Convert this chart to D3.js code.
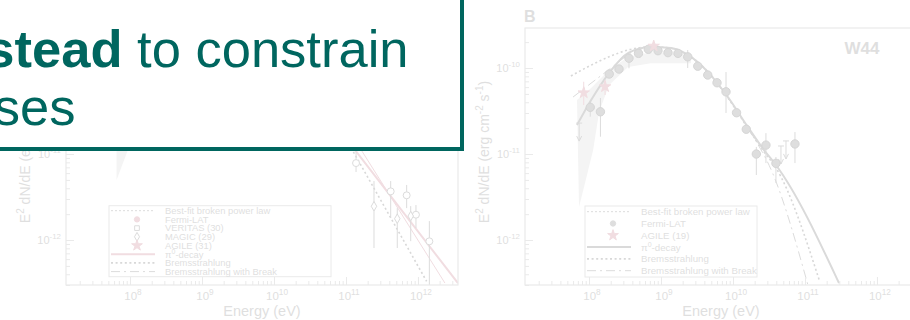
<!DOCTYPE html>
<html>
<head>
<meta charset="utf-8">
<script src="https://cdn.jsdelivr.net/npm/d3@7"></script>
<style>
  body { margin: 0; background: #fff; }
  svg { display: block; font-family: "Liberation Sans", Arial, sans-serif; }
</style>
</head>
<body>
<svg id="chart" width="910" height="320"></svg>
<script>
// axes (both panels share them)
var xDomain = [1.29e7, 3.6e12];
var yDomain = [3.0e-13, 2.92e-10];
var xMajor = [1e8, 1e9, 1e10, 1e11, 1e12];
var xMajorExp = ["8", "9", "10", "11", "12"];
var yMajor = [1e-12, 1e-11, 1e-10];
var yMajorExp = ["-12", "-11", "-10"];

// panel A (IC 443) - only the lower right part shows below the box
var icPion = [[1.04e11, 1.46e-11], [3.59e12, 3.16e-13]];
var icBroken = [[1.33e11, 1.46e-11], [2.37e12, 3.16e-13]];
var icBrems = [[1.02e11, 1.46e-11], [1.32e12, 3.31e-13]];
var icBand = [[6.5e7, 4.25e-11], [1.71e8, 4.25e-11], [6.5e7, 5.0e-12]];
var icVeritasE = [1.38e11, 4.18e11, 6.97e11, 9.38e11, 1.44e12];
var icVeritasF = [7.85e-12, 3.68e-12, 3.31e-12, 1.97e-12, 9.66e-13];
var icVeritasHi = [1.05e-11, 4.85e-12, 4.37e-12, 2.55e-12, 1.66e-12];
var icVeritasLo = [6.18e-12, 1.80e-12, 2.35e-12, 1.38e-12, 3.0e-13];
var icMagicE = [2.45e11, 5.16e11, 7.93e11];
var icMagicF = [2.47e-12, 1.77e-12, 1.90e-12];
var icMagicHi = [4.85e-12, 2.35e-12, 2.48e-12];
var icMagicLo = [8.07e-13, 8.07e-13, 9.7e-13];
var icLegend = ["Best-fit broken power law", "Fermi-LAT", "VERITAS (30)", "MAGIC (29)",
                "AGILE (31)", "π^0-decay", "Bremsstrahlung", "Bremsstrahlung with Break"];
var icLegendKind = ["bestfit", "fermi", "veritas", "magic", "agile", "pion", "brems", "break"];

// panel B (W44)
var wFermiE = [1.04e8, 1.44e8, 1.91e8, 2.61e8, 3.59e8, 4.87e8, 6.67e8, 9.08e8, 1.25e9, 1.72e9, 2.35e9,
               3.24e9, 4.46e9, 6.0e9, 8.0e9, 1.12e10, 1.53e10, 2.11e10, 2.87e10, 3.95e10, 7.26e10];
var wFermiF = [3.49e-11, 3.10e-11, 8.51e-11, 9.73e-11, 1.30e-10, 1.48e-10, 1.65e-10, 1.59e-10, 1.51e-10,
               1.48e-10, 1.35e-10, 1.05e-10, 8.29e-11, 6.74e-11, 5.29e-11, 3.02e-11, 1.94e-11, 1.0e-11,
               1.27e-11, 7.79e-12, 1.31e-11];
var wFermiHi = [4.06e-11, 4.48e-11, 9.48e-11, 1.05e-10, 1.55e-10, 1.58e-10, 1.75e-10, 1.66e-10, 1.62e-10,
                1.60e-10, 1.62e-10, 1.14e-10, 8.98e-11, 7.24e-11, 8.98e-11, 3.33e-11, 2.12e-11, 1.21e-11,
                1.75e-11, 9.23e-12, 1.80e-11];
var wFermiLo = [2.72e-11, 1.59e-11, 7.65e-11, 8.98e-11, 9.93e-11, 1.38e-10, 1.53e-10, 1.49e-10, 1.42e-10,
                1.38e-10, 1.0e-10, 9.73e-11, 7.65e-11, 6.18e-11, 3.0e-11, 2.77e-11, 1.75e-11, 5.7e-12,
                7.85e-12, 4.6e-12, 7.85e-12];
var wLimitE = [7.3e7, 4.64e10, 5.45e10];
var wLimitF = [2.29e-11, 1.24e-11, 1.42e-11];
var wAgileE = [8.44e7, 1.67e8, 7.92e8];
var wAgileF = [5.16e-11, 6.07e-11, 1.80e-10];
var wAgileHi = [6.93e-11, 7.24e-11, 2.0e-10];
var wAgileLo = [3.71e-11, 4.85e-11, 1.62e-10];
var wPion = [[6.8e7, 2.17e-11], [1.07e8, 4.25e-11], [1.9e8, 8.75e-11], [3.48e8, 1.49e-10], [7.26e8, 1.75e-10],
             [1.38e9, 1.71e-10], [2.37e9, 1.42e-10], [4.5e9, 8.97e-11], [8.5e9, 4.6e-11], [1.61e10, 2.06e-11],
             [2.7e10, 1.11e-11], [3.95e10, 7.45e-12], [2.97e11, 3.16e-13]];
var wBrems = [[5.6e7, 8.07e-11], [1.07e8, 1.08e-10], [2.02e8, 1.38e-10], [3.48e8, 1.62e-10], [7.26e8, 1.76e-10],
              [1.38e9, 1.70e-10], [2.37e9, 1.42e-10], [4.5e9, 9.0e-11], [8.5e9, 4.5e-11], [1.61e10, 2.0e-11],
              [2.7e10, 1.06e-11], [3.95e10, 6.9e-12], [1.61e11, 3.25e-13]];
var wBremsBreak = [[6.0e7, 4.6e-11], [2.02e8, 1.0e-10], [3.48e8, 1.41e-10], [7.26e8, 1.74e-10], [1.38e9, 1.69e-10],
                   [2.37e9, 1.40e-10], [4.5e9, 8.9e-11], [8.5e9, 4.5e-11], [1.61e10, 2.0e-11],
                   [3.56e10, 5.97e-12], [1.1e11, 3.0e-13]];
var wBandUpper = [[6.81e7, 4.25e-11], [1.07e8, 5.85e-11], [1.90e8, 9.48e-11], [3.48e8, 1.34e-10],
                  [7.26e8, 1.53e-10], [2.61e9, 1.42e-10]];
var wBandLower = [[2.61e9, 1.14e-10], [7.26e8, 1.14e-10], [3.48e8, 1.03e-10], [1.90e8, 6.34e-11],
                  [1.38e8, 3.08e-11], [1.14e8, 1.11e-11], [7.26e7, 2.42e-12]];
var wLegend = ["Best-fit broken power law", "Fermi-LAT", "AGILE (19)", "π^0-decay",
               "Bremsstrahlung", "Bremsstrahlung with Break"];
var wLegendKind = ["bestfit", "fermi", "agile", "pion", "brems", "break"];

// faded colours
var cFrame = "#eaeaea", cText = "#dfdfdf", cGray = "#dcdcdc", cPink = "#f1dde1", cBand = "#f4f4f4";
var teal = "#00665f";

var svg = d3.select("#chart");
var pw = 392, plotTop = 28, plotBottom = 285;

function supText(sel, base, exp, size) {
  sel.append("tspan").text(base);
  sel.append("tspan").attr("dy", -size * 0.45).attr("font-size", size * 0.72).text(exp);
}

function makePanel(x0, id) {
  var x = d3.scaleLog().domain(xDomain).range([x0, x0 + pw]);
  var y = d3.scaleLog().domain(yDomain).range([plotBottom, plotTop]);
  var g = svg.append("g");
  g.append("clipPath").attr("id", id).append("rect")
    .attr("x", x0).attr("y", plotTop).attr("width", pw).attr("height", plotBottom - plotTop);
  var plot = g.append("g").attr("clip-path", "url(#" + id + ")");

  // ticks, inward
  var minorX = x.ticks().filter(function(v) { return Math.abs(Math.log10(v) % 1) > 0.01; });
  var minorY = y.ticks().filter(function(v) { return Math.abs(Math.log10(v) % 1) > 0.01; });
  var axes = g.append("g").attr("class", "axes");
  axes.append("g").attr("transform", "translate(0," + plotBottom + ")")
      .call(d3.axisBottom(x).tickValues(minorX).tickSize(-4).tickFormat(""));
  axes.append("g").attr("transform", "translate(0," + plotBottom + ")")
      .call(d3.axisBottom(x).tickValues(xMajor).tickSize(-8).tickFormat(""));
  axes.append("g").attr("transform", "translate(" + x0 + ",0)")
      .call(d3.axisLeft(y).tickValues(minorY).tickSize(-4).tickFormat(""));
  axes.append("g").attr("transform", "translate(" + x0 + ",0)")
      .call(d3.axisLeft(y).tickValues(yMajor).tickSize(-8).tickFormat(""));
  axes.selectAll(".domain").remove();
  axes.selectAll(".tick line").attr("stroke", cFrame);

  g.append("rect").attr("x", x0).attr("y", plotTop).attr("width", pw).attr("height", plotBottom - plotTop)
    .attr("fill", "none").attr("stroke", cFrame).attr("stroke-width", 1.2);

  xMajor.forEach(function(v, i) {
    var t = g.append("text").attr("x", x(v) + 3).attr("y", 300)
      .attr("text-anchor", "middle").attr("font-size", 11.5).attr("fill", cText);
    supText(t, "10", xMajorExp[i], 11.5);
  });
  yMajor.forEach(function(v, i) {
    var t = g.append("text").attr("x", x0 - 5).attr("y", y(v) + 4)
      .attr("text-anchor", "end").attr("font-size", 11).attr("fill", cText);
    supText(t, "10", yMajorExp[i], 11);
  });

  g.append("text").attr("x", x0 + 196).attr("y", 316).attr("text-anchor", "middle")
    .attr("font-size", 14.5).attr("fill", cText).text("Energy (eV)");

  var yt = g.append("text").attr("transform", "translate(" + (x0 - 36) + ",152) rotate(-90)")
    .attr("text-anchor", "middle").attr("font-size", 14).attr("fill", cText);
  yt.append("tspan").text("E");
  yt.append("tspan").attr("font-size", 10).attr("dy", -6).text("2");
  yt.append("tspan").attr("dy", 6).text(" dN/dE (erg cm");
  yt.append("tspan").attr("font-size", 10).attr("dy", -6).text("-2");
  yt.append("tspan").attr("dy", 6).text(" s");
  yt.append("tspan").attr("font-size", 10).attr("dy", -6).text("-1");
  yt.append("tspan").attr("dy", 6).text(")");

  return { x: x, y: y, g: g, plot: plot };
}

function line(p) {
  return d3.line().x(function(d) { return p.x(d[0]); }).y(function(d) { return p.y(d[1]); })
    .curve(d3.curveMonotoneX);
}

var styles = {
  bestfit: { stroke: cGray, w: 1, dash: "2,2" },
  pion: { w: 2, dash: null },
  brems: { stroke: "#d8d8d8", w: 1.6, dash: "2,2.6" },
  "break": { stroke: cGray, w: 1, dash: "9,4,2,4" }
};

function drawCurve(p, data, st, color) {
  p.plot.append("path").datum(data).attr("d", line(p))
    .attr("fill", "none").attr("stroke", color || st.stroke).attr("stroke-width", st.w)
    .attr("stroke-dasharray", st.dash);
}

function errBars(p, E, hi, lo, color) {
  p.plot.selectAll(null).data(E).enter().append("line")
    .attr("x1", function(d) { return p.x(d); }).attr("x2", function(d) { return p.x(d); })
    .attr("y1", function(d, i) { return p.y(hi[i]); }).attr("y2", function(d, i) { return p.y(lo[i]); })
    .attr("stroke", color).attr("stroke-width", 1);
}

function symbols(p, E, F, type, size, fill, stroke) {
  p.plot.selectAll(null).data(E).enter().append("path")
    .attr("transform", function(d, i) { return "translate(" + p.x(d) + "," + p.y(F[i]) + ")"; })
    .attr("d", d3.symbol().type(type).size(size))
    .attr("fill", fill).attr("stroke", stroke).attr("stroke-width", 1);
}

function legend(g, bx, by, bw, bh, labels, kinds, row0, step, fs, pionColor, fermiColor) {
  var lg = g.append("g");
  lg.append("rect").attr("x", bx).attr("y", by).attr("width", bw).attr("height", bh)
    .attr("fill", "none").attr("stroke", cFrame);
  labels.forEach(function(lab, i) {
    var yy = row0 + i * step, k = kinds[i], sx = bx + 2, ex = bx + 46, cx = bx + 28;
    if (k === "bestfit" || k === "pion" || k === "brems" || k === "break") {
      var st = styles[k];
      lg.append("line").attr("x1", sx).attr("x2", ex).attr("y1", yy).attr("y2", yy)
        .attr("stroke", k === "pion" ? pionColor : st.stroke).attr("stroke-width", st.w)
        .attr("stroke-dasharray", st.dash);
    } else {
      var sym = { fermi: d3.symbolCircle, veritas: d3.symbolSquare, magic: d3.symbolDiamond, agile: d3.symbolStar }[k];
      var fill = k === "fermi" ? fermiColor : (k === "agile" ? cPink : "none");
      lg.append("path").attr("transform", "translate(" + cx + "," + yy + ")")
        .attr("d", d3.symbol().type(sym).size(k === "agile" ? 36 : 22))
        .attr("fill", fill).attr("stroke", k === "agile" ? cPink : (k === "fermi" ? fermiColor : cGray));
    }
    var t = lg.append("text").attr("x", bx + 56).attr("y", yy + fs * 0.36)
      .attr("font-size", fs).attr("fill", cText);
    var parts = lab.split("^");
    if (parts.length > 1) {
      t.append("tspan").text(parts[0]);
      t.append("tspan").attr("dy", -4).attr("font-size", 7).text(parts[1].charAt(0));
      t.append("tspan").attr("dy", 4).text(parts[1].slice(1));
    } else {
      t.text(lab);
    }
  });
}

// ---- panel A
var pA = makePanel(66, "clipA");
pA.plot.append("path").datum(icBand).attr("d", d3.line().x(function(d) { return pA.x(d[0]); })
  .y(function(d) { return pA.y(d[1]); })).attr("fill", cBand);
drawCurve(pA, icBrems, styles.brems);
drawCurve(pA, icBroken, { w: 1, dash: null }, cPink);
drawCurve(pA, icPion, styles.pion, cPink);
errBars(pA, icVeritasE, icVeritasHi, icVeritasLo, cGray);
errBars(pA, icMagicE, icMagicHi, icMagicLo, cGray);
symbols(pA, icVeritasE, icVeritasF, d3.symbolCircle, 38, "#fff", cGray);
symbols(pA, icMagicE, icMagicF, d3.symbolDiamond, 26, "#fff", cGray);
legend(pA.g, 109, 205.7, 222, 71, icLegend, icLegendKind, 210.7, 8.7, 9.4, cPink, cPink);

// ---- panel B
var pB = makePanel(525, "clipB");
var band = wBandUpper.concat(wBandLower);
pB.plot.append("path").datum(band).attr("d", d3.line().x(function(d) { return pB.x(d[0]); })
  .y(function(d) { return pB.y(d[1]); }).curve(d3.curveLinearClosed)).attr("fill", cBand);
drawCurve(pB, wBremsBreak, styles["break"]);
drawCurve(pB, wBrems, styles.brems);
drawCurve(pB, wPion, styles.pion, "#dadada");
errBars(pB, wFermiE, wFermiHi, wFermiLo, cGray);
errBars(pB, wAgileE, wAgileHi, wAgileLo, cPink);
// upper limits
pB.plot.selectAll(null).data(wLimitE).enter().append("path")
  .attr("d", function(d, i) {
    var px = pB.x(d), py = pB.y(wLimitF[i]);
    return "M" + (px - 3) + "," + py + "H" + (px + 3) + "M" + px + "," + py + "V" + (py + 18) +
      "M" + (px - 2.5) + "," + (py + 13) + "L" + px + "," + (py + 18) + "L" + (px + 2.5) + "," + (py + 13);
  })
  .attr("fill", "none").attr("stroke", cGray);
symbols(pB, wFermiE, wFermiF, d3.symbolCircle, 55, "#dedede", "#d6d6d6");
symbols(pB, wAgileE, wAgileF, d3.symbolStar, 40, cPink, cPink);
legend(pB.g, 585, 206, 172, 71, wLegend, wLegendKind, 211.7, 11.8, 9.7, "#dadada", "#dedede");

pB.g.append("text").attr("x", 524).attr("y", 22).attr("font-size", 16).attr("font-weight", "bold")
  .attr("fill", cText).text("B");
pB.g.append("text").attr("x", 862).attr("y", 54).attr("text-anchor", "middle").attr("font-size", 17)
  .attr("font-weight", "bold").attr("fill", cText).text("W44");

// ---- slide text box on top
var box = svg.append("g");
box.append("rect").attr("x", -10).attr("y", -10).attr("width", 472).attr("height", 159)
  .attr("fill", "#fff").attr("stroke", teal).attr("stroke-width", 4);
var l1 = box.append("text").attr("x", 408.5).attr("y", 67).attr("text-anchor", "end")
  .attr("font-size", 52.5).attr("fill", teal);
l1.append("tspan").attr("font-weight", "bold").text("instead");
l1.append("tspan").text(" to constrain");
box.append("text").attr("x", 75.5).attr("y", 125).attr("text-anchor", "end")
  .attr("font-size", 52.5).attr("fill", teal).text("ses");
</script>
</body>
</html>
